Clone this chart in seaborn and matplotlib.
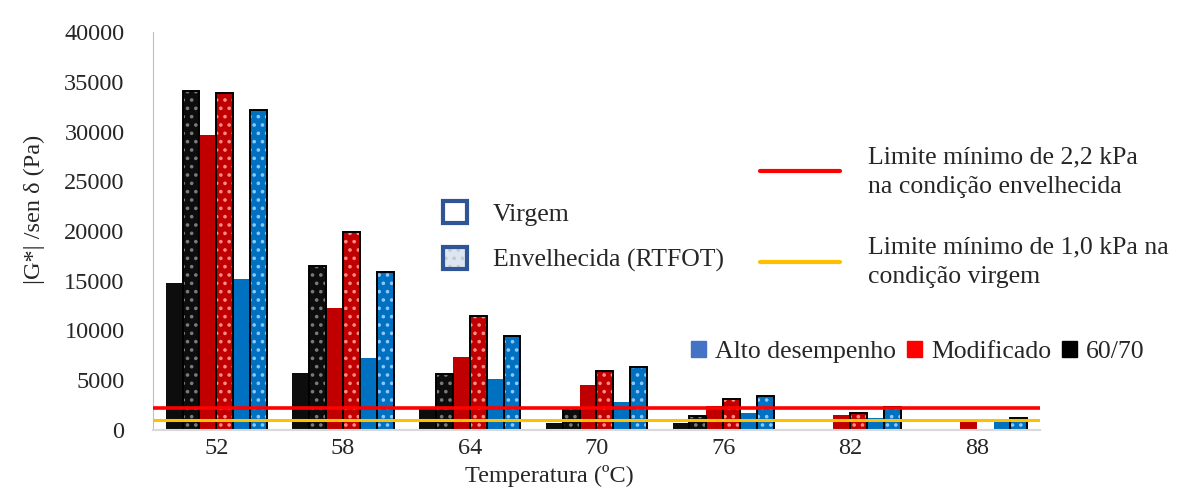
import numpy as np
import pandas as pd
import matplotlib
matplotlib.use("Agg")
import matplotlib.pyplot as plt
from matplotlib.patches import Patch, Rectangle
from matplotlib.lines import Line2D
from matplotlib.legend_handler import HandlerTuple
import seaborn as sns

# Temperaturas de ensaio (ºC)
temperaturas = ["52", "58", "64", "70", "76", "82", "88"]

# |G*|/sen δ (Pa) por ligante e condição
cap_6070_virgem = [14800, 5760, 2180, 730, 740, np.nan, np.nan]
cap_6070_rtfot = [34100, 16480, 5630, 2180, 1400, np.nan, np.nan]
modificado_virgem = [29650, 12230, 7300, 4560, 2450, 1500, 770]
modificado_rtfot = [33900, 19930, 11460, 5960, 3080, 1740, np.nan]
alto_virgem = [15150, 7200, 5100, 2850, 1680, 1170, 770]
alto_rtfot = [32200, 15850, 9450, 6300, 3400, 2340, 1240]

# Limites mínimos da especificação (Pa)
limite_envelhecida = 2200
limite_virgem = 1000

series = ["60/70 virgem", "60/70 RTFOT",
          "Modificado virgem", "Modificado RTFOT",
          "Alto desempenho virgem", "Alto desempenho RTFOT"]
valores = [cap_6070_virgem, cap_6070_rtfot, modificado_virgem,
           modificado_rtfot, alto_virgem, alto_rtfot]

df = pd.DataFrame(
    [(t, s, v) for s, vals in zip(series, valores) for t, v in zip(temperaturas, vals)],
    columns=["temperatura", "serie", "valor"],
).dropna()

cor_base = {"60/70": "#0d0d0d", "Modificado": "#c00000", "Alto desempenho": "#0070c0"}
cor_ponto = {"60/70": "#7a7a7a", "Modificado": "#ff8a8a", "Alto desempenho": "#8cc8ff"}
palette = {s: cor_base[s.rsplit(" ", 1)[0]] for s in series}

sns.set_style("white")
plt.rcParams["font.family"] = ["Liberation Serif", "DejaVu Serif"]
plt.rcParams["hatch.linewidth"] = 1.4
FS = 17.5
FS_LEG = 18.5

fig = plt.figure(figsize=(11.89, 4.88), dpi=100)
ax = fig.add_axes([153 / 1189, 1 - 430 / 488, 887 / 1189, 398 / 488])

sns.barplot(data=df, x="temperatura", y="valor", hue="serie",
            order=temperaturas, hue_order=series, palette=palette,
            saturation=1, width=0.8, gap=0, linewidth=0,
            errorbar=None, legend=False, ax=ax)

# Condição envelhecida: preenchimento pontilhado com contorno preto
for cont, nome in zip(ax.containers, series):
    if nome.endswith("RTFOT"):
        base = nome.rsplit(" ", 1)[0]
        for bar in cont:
            bar.set_hatch("..")
            bar.set_edgecolor(cor_ponto[base])
            bar.set_linewidth(0)
            ax.add_patch(Rectangle(bar.get_xy(), bar.get_width(), bar.get_height(),
                                   fill=False, ec="black", lw=1.4,
                                   zorder=bar.get_zorder() + 0.1))

ax.axhline(limite_envelhecida, color="#ff0000", lw=2.6, zorder=5)
ax.axhline(limite_virgem, color="#ffc000", lw=2.2, zorder=5)

ax.set_ylim(0, 40000)
ax.set_yticks(np.arange(0, 40001, 5000))
ax.tick_params(axis="y", length=4.5, width=1, color="#bfbfbf", pad=16, labelsize=FS)
ax.tick_params(axis="x", length=0, pad=6, labelsize=FS)
for s in ("top", "right"):
    ax.spines[s].set_visible(False)
ax.spines["left"].set_color("#bfbfbf")
ax.spines["bottom"].set_color("#d9d9d9")
ax.spines["bottom"].set_linewidth(1.5)

ax.set_xlabel("Temperatura (ºC)", fontsize=FS)
ax.xaxis.set_label_coords(0.447, -0.087)
ax.set_ylabel("|G*| /sen δ (Pa)", fontsize=FS)
ax.yaxis.set_label_coords(-0.122, 0.555)

# Legenda das linhas de limite
h_lim = [Line2D([], [], color="#ff0000", lw=3),
         Line2D([], [], color="#ffc000", lw=3)]
leg1 = fig.legend(h_lim,
                  ["Limite mínimo de 2,2 kPa\nna condição envelhecida",
                   "Limite mínimo de 1,0 kPa na\ncondição virgem"],
                  loc="upper left", bbox_to_anchor=(760 / 1189, 1 - 146 / 488),
                  frameon=False, fontsize=FS_LEG, handlelength=3.1, handletextpad=1.1,
                  labelspacing=1.5, borderpad=0, borderaxespad=0)
for t in leg1.get_texts():
    t.set_linespacing(1.45)

# Legenda da condição
virgem = Patch(facecolor="white", edgecolor="#2f5597", lw=3)
env_pontos = Patch(facecolor="#dce6f2", edgecolor="#c8c8c8", hatch="..", lw=0)
env_borda = Patch(facecolor="none", edgecolor="#2f5597", lw=3)
fig.legend([virgem, (env_pontos, env_borda)], ["Virgem", "Envelhecida (RTFOT)"],
           handler_map={tuple: HandlerTuple(ndivide=1, pad=0)},
           loc="upper left", bbox_to_anchor=(443 / 1189, 1 - 201 / 488),
           frameon=False, fontsize=FS_LEG, handlelength=0.95, handleheight=0.95,
           handletextpad=1.0, labelspacing=0.82, borderpad=0, borderaxespad=0)

# Legenda dos ligantes
h_lig = [Patch(color="#4472c4"), Patch(color="#ff0000"), Patch(color="#000000")]
fig.legend(h_lig, ["Alto desempenho", "Modificado", "60/70"], ncol=3,
           loc="center left", bbox_to_anchor=(691 / 1189, 1 - 352 / 488),
           frameon=False, fontsize=FS_LEG, handlelength=0.6, handleheight=0.6,
           handletextpad=0.35, columnspacing=0.4, borderpad=0, borderaxespad=0)

fig.savefig("out.png", dpi=100)
